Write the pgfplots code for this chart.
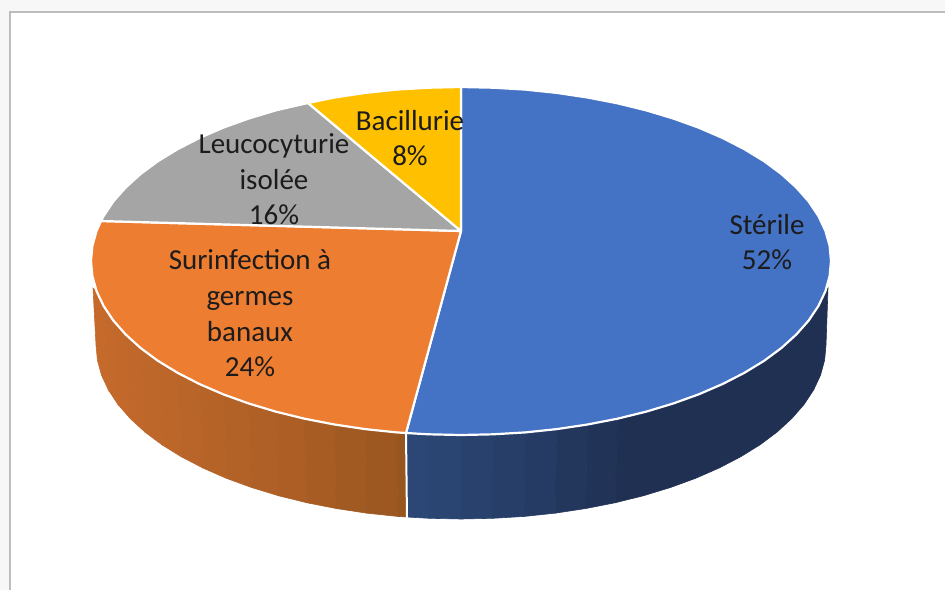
\documentclass[border=0pt]{standalone}
\usepackage{pgfplots}
\pgfplotsset{compat=1.18}
\usepackage{fontspec}
\setmainfont{Carlito}
\definecolor{sliceBlue}{HTML}{4472C4}
\definecolor{sliceOrange}{HTML}{ED7D31}
\definecolor{sliceGrey}{HTML}{A5A5A5}
\definecolor{sliceYellow}{HTML}{FFC000}
\definecolor{blueL}{HTML}{2C4775}
\definecolor{blueR}{HTML}{1F3052}
\definecolor{orangeL}{HTML}{C66A2C}
\definecolor{orangeR}{HTML}{975520}
\definecolor{frameGrey}{HTML}{BDBDBD}
\definecolor{labelInk}{HTML}{1C1C1C}
% one vertical band of the pie's rim
\newcommand{\rimband}[2]{\addplot[draw={#1},fill={#1},line width=0.6pt] coordinates {#2} -- cycle;}
\newcommand{\lab}[3]{\node[anchor=base,text=labelInk,font=\fontsize{29}{34}\selectfont,inner sep=0pt] at (axis cs:#1,#2) {#3};}
\begin{document}
\begin{tikzpicture}
\begin{axis}[
  hide axis, scale only axis, width=945pt, height=590pt,
  xmin=0, xmax=945, ymin=0, ymax=590, y dir=reverse,
]
% page and panel
\addplot[draw=none,fill=black!3] coordinates {(0,0) (945,0) (945,590) (0,590)} -- cycle;
\addplot[draw=none,fill=white] coordinates {(10,12) (945,12) (945,590) (10,590)} -- cycle;
\addplot[draw=frameGrey,line width=1.6pt] coordinates {(10,590) (10,12) (945,12)};

% rim of the orange slice, left to right
\rimband{orangeL}{(96.6,291.2) (93,288) (96,345) (97.4,360.2) (101.5,375.2) (108.4,390) (103.6,306)}
\rimband{orangeL!96!orangeR}{(103.6,306) (108.4,390) (118,404.5) (113.3,320.5)}
\rimband{orangeL!92!orangeR}{(113.3,320.5) (118,404.5) (130.2,418.5) (125.7,334.5)}
\rimband{orangeL!88!orangeR}{(125.7,334.5) (130.2,418.5) (144.9,432) (140.6,348)}
\rimband{orangeL!84!orangeR}{(140.6,348) (144.9,432) (162,444.8) (157.9,360.8)}
\rimband{orangeL!79!orangeR}{(157.9,360.8) (162,444.8) (181.4,456.8) (177.6,372.8)}
\rimband{orangeL!73!orangeR}{(177.6,372.8) (181.4,456.8) (202.9,468) (199.4,384)}
\rimband{orangeL!67!orangeR}{(199.4,384) (202.9,468) (226.4,478.3) (223.2,394.3)}
\rimband{orangeL!60!orangeR}{(223.2,394.3) (226.4,478.3) (251.6,487.5) (248.8,403.5)}
\rimband{orangeL!52!orangeR}{(248.8,403.5) (251.6,487.5) (278.5,495.7) (276,411.7)}
\rimband{orangeL!44!orangeR}{(276,411.7) (278.5,495.7) (306.7,502.7) (304.6,418.7)}
\rimband{orangeL!34!orangeR}{(304.6,418.7) (306.7,502.7) (336.2,508.5) (334.5,424.5)}
\rimband{orangeL!24!orangeR}{(334.5,424.5) (336.2,508.5) (366.5,513.1) (365.2,429.1)}
\rimband{orangeL!12!orangeR}{(365.2,429.1) (366.5,513.1) (397.6,516.4) (396.7,432.4)}
\rimband{orangeR}{(396.7,432.4) (397.6,516.4) (406.8,517) (406,433)}

% rim of the blue slice, left to right
\rimband{blueL}{(406,433) (406.8,517) (429.2,518.3) (428.8,434.3)}
\rimband{blueL!90!blueR}{(428.8,434.3) (429.2,518.3) (461,519) (461,435)}
\rimband{blueL!78!blueR}{(461,435) (461,519) (492.8,518.3) (493.2,434.3)}
\rimband{blueL!64!blueR}{(493.2,434.3) (492.8,518.3) (524.4,516.4) (525.3,432.4)}
\rimband{blueL!48!blueR}{(525.3,432.4) (524.4,516.4) (555.5,513.1) (556.8,429.1)}
\rimband{blueL!30!blueR}{(556.8,429.1) (555.5,513.1) (585.8,508.5) (587.5,424.5)}
\rimband{blueL!14!blueR}{(587.5,424.5) (585.8,508.5) (615.3,502.7) (617.4,418.7)}
\rimband{blueR}{(617.4,418.7) (615.3,502.7) (643.5,495.7) (670.4,487.5) (695.6,478.3) (719.1,468) (740.6,456.8) (760,444.8) (777.1,432) (791.8,418.5) (804,404.5) (813.6,390) (820.5,375.2) (824.6,360.2) (826,345) (828,288) (825.4,291.2) (818.4,306) (808.7,320.5) (796.3,334.5) (781.4,348) (764.1,360.8) (744.4,372.8) (722.6,384) (698.8,394.3) (673.2,403.5) (646,411.7)}

% seam between the two rims
\addplot[draw=white,line width=2pt] coordinates {(406,433) (407,519)};

% top face: Stérile 52 %
\addplot[draw=white,fill=sliceBlue,line width=2.2pt,line join=round] coordinates {
 (461,231) (461,87) (493.2,87.7) (525.3,89.6) (556.8,92.9) (587.5,97.5) (617.4,103.3) (646,110.3)
 (673.2,118.5) (698.8,127.7) (722.6,138) (744.4,149.2) (764.1,161.2) (781.4,174) (796.3,187.5)
 (808.7,201.5) (818.4,216) (825.4,230.8) (829.6,245.8) (831,261) (829.6,276.2) (825.4,291.2)
 (818.4,306) (808.7,320.5) (796.3,334.5) (781.4,348) (764.1,360.8) (744.4,372.8) (722.6,384)
 (698.8,394.3) (673.2,403.5) (646,411.7) (617.4,418.7) (587.5,424.5) (556.8,429.1) (525.3,432.4)
 (493.2,434.3) (461,435) (428.8,434.3) (406,433)} -- cycle;
% top face: Surinfection à germes banaux 24 %
\addplot[draw=white,fill=sliceOrange,line width=2.2pt,line join=round] coordinates {
 (461,231) (406,433) (396.7,432.4) (365.2,429.1) (334.5,424.5) (304.6,418.7) (276,411.7) (248.8,403.5)
 (223.2,394.3) (199.4,384) (177.6,372.8) (157.9,360.8) (140.6,348) (125.7,334.5) (113.3,320.5)
 (103.6,306) (96.6,291.2) (92.4,276.2) (91,261) (92.4,245.8) (96.6,230.8) (101,221)} -- cycle;
% top face: Leucocyturie isolée 16 %
\addplot[draw=white,fill=sliceGrey,line width=2.2pt,line join=round] coordinates {
 (461,231) (101,221) (103.6,216) (113.3,201.5) (125.7,187.5) (140.6,174) (157.9,161.2) (177.6,149.2)
 (199.4,138) (223.2,127.7) (248.8,118.5) (276,110.3) (308,103)} -- cycle;
% top face: Bacillurie 8 %
\addplot[draw=white,fill=sliceYellow,line width=2.2pt,line join=round] coordinates {
 (461,231) (308,103) (334.5,97.5) (365.2,92.9) (396.7,89.6) (428.8,87.7) (461,87)} -- cycle;

% slice labels
\lab{767}{234}{Stérile}
\lab{767}{269}{52\%}
\lab{410}{130}{Bacillurie}
\lab{410}{165}{8\%}
\lab{274}{153}{Leucocyturie}
\lab{274}{189}{isolée}
\lab{274}{224}{16\%}
\lab{250}{269}{Surinfection à}
\lab{250}{305}{germes}
\lab{250}{341}{banaux}
\lab{250}{376}{24\%}
\end{axis}
\end{tikzpicture}
\end{document}
